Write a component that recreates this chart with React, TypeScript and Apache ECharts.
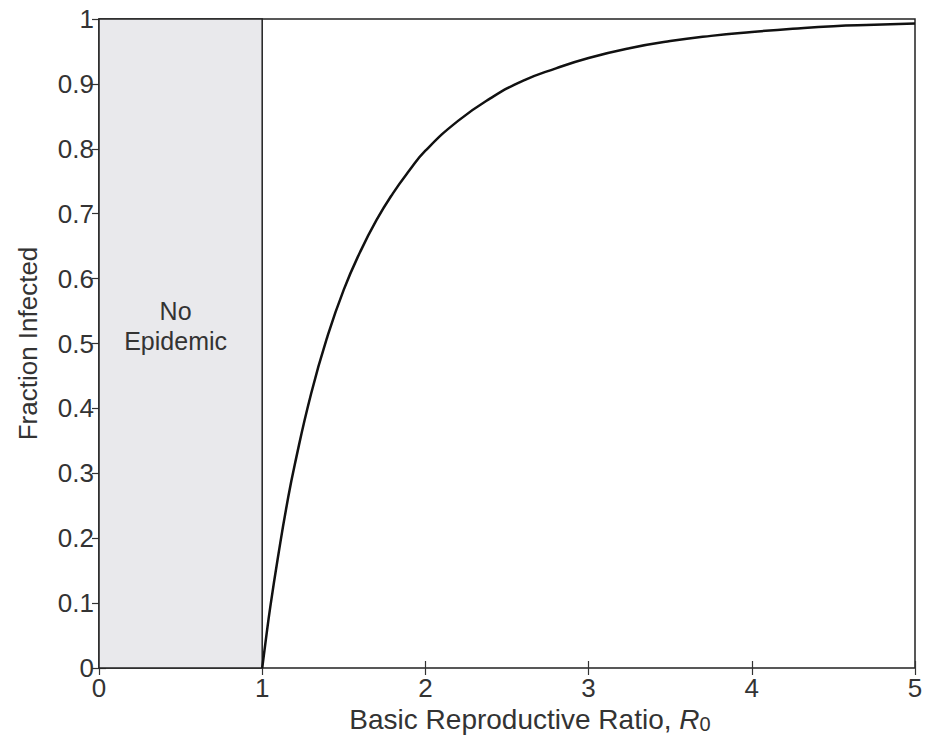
import React, { useEffect, useRef } from "react";
import * as echarts from "echarts";

const r0Values = [1.0, 1.02, 1.05, 1.1, 1.15, 1.2, 1.3, 1.4, 1.5, 1.6, 1.7, 1.8, 1.9, 2.0, 2.2, 2.4, 2.6, 2.8, 3.0, 3.25, 3.5, 3.75, 4.0, 4.25, 4.5, 4.75, 5.0];
const fractionInfected = [0.0, 0.039, 0.095, 0.176, 0.25, 0.314, 0.423, 0.511, 0.583, 0.641, 0.69, 0.731, 0.766, 0.797, 0.843, 0.878, 0.905, 0.924, 0.94, 0.955, 0.966, 0.974, 0.98, 0.985, 0.989, 0.991, 0.993];
const noEpidemicRange = [0, 1];
const xTicks = [0, 1, 2, 3, 4, 5];
const yTicks = [0, 0.1, 0.2, 0.3, 0.4, 0.5, 0.6, 0.7, 0.8, 0.9, 1];

export default function App() {
  const ref = useRef<HTMLDivElement>(null);
  useEffect(() => {
    const chart = echarts.init(ref.current!, null, { renderer: "svg" });
    const font = "'Liberation Sans', Arial, sans-serif";
    const tickLine = { color: "#333", width: 1.2 };
    chart.setOption({
      animation: false,
      backgroundColor: "#fff",
      grid: {
        left: 99, right: 19, top: 19, bottom: 71, show: true, borderColor: "#222", borderWidth: 1.5,
        backgroundColor: "transparent", containLabel: false, outerBoundsMode: "none",
      },
      xAxis: [
        {
          type: "value", min: xTicks[0], max: xTicks[xTicks.length - 1], interval: 1,
          axisLine: { show: false }, splitLine: { show: false },
          axisTick: { inside: true, length: 7, lineStyle: tickLine },
          axisLabel: { color: "#333", fontSize: 26, fontFamily: font, margin: 7 },
          name: "{a|Basic Reproductive Ratio, }{i|R}{s|0}",
          nameLocation: "middle", nameGap: 36,
          nameTextStyle: {
            padding: [0, 0, 0, 46],
            rich: {
              a: { fontSize: 28, fontFamily: font, color: "#333" },
              i: { fontSize: 28, fontFamily: font, color: "#333", fontStyle: "italic" },
              s: { fontSize: 20, fontFamily: font, color: "#333", verticalAlign: "bottom", padding: [8, 0, 0, 0] },
            },
          },
        },
        {
          type: "value", position: "top", min: 0, max: 5, interval: 1,
          axisLine: { show: false }, splitLine: { show: false },
          axisTick: { inside: true, length: 7, lineStyle: tickLine },
          axisLabel: { show: false },
        },
      ],
      yAxis: [
        {
          type: "value", min: yTicks[0], max: yTicks[yTicks.length - 1], interval: 0.1,
          axisLine: { show: false }, splitLine: { show: false },
          axisTick: { inside: true, length: 7, lineStyle: tickLine },
          axisLabel: { color: "#333", fontSize: 26, fontFamily: font, margin: 5,
            formatter: (v: number) => String(Math.round(v * 10) / 10) },
          name: "Fraction Infected", nameLocation: "middle", nameGap: 58, nameRotate: 90,
          nameTextStyle: { fontSize: 26, fontFamily: font, color: "#333" },
        },
        {
          type: "value", position: "right", min: 0, max: 1, interval: 0.1,
          axisLine: { show: false }, splitLine: { show: false },
          axisTick: { inside: true, length: 7, lineStyle: tickLine },
          axisLabel: { show: false },
        },
      ],
      series: [
        {
          type: "line",
          data: r0Values.map((x, i) => [x, fractionInfected[i]]),
          smooth: true,
          showSymbol: false,
          lineStyle: { color: "#111", width: 2.5 },
          markArea: {
            silent: true,
            itemStyle: { color: "#e9e9ec", borderColor: "#222", borderWidth: 1.5 },
            label: {
              show: true, position: "inside", formatter: "No\nEpidemic",
              fontSize: 25, fontFamily: font, color: "#333", lineHeight: 30, offset: [-5, -18],
            },
            data: [[{ xAxis: noEpidemicRange[0], yAxis: 0 }, { xAxis: noEpidemicRange[1], yAxis: 1 }]],
          },
        },
      ],
    });
    return () => chart.dispose();
  }, []);
  return <div ref={ref} style={{ width: 934, height: 739, position: "absolute", left: 0, top: 0 }} />;
}
